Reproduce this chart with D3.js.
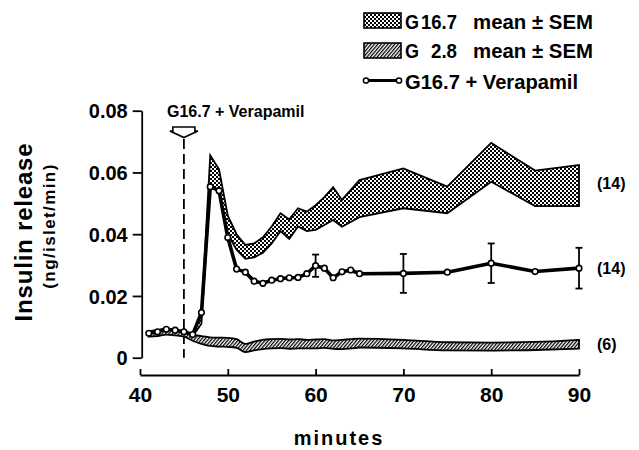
<!DOCTYPE html>
<html>
<head>
<meta charset="utf-8">
<script src="https://cdn.jsdelivr.net/npm/d3@7"></script>
<style>
  body { margin: 0; background: #fff; }
  svg text { font-family: "Liberation Sans", Arial, sans-serif; font-weight: bold; fill: #000; }
</style>
</head>
<body>
<div id="chart"></div>
<script>
// G16.7 + Verapamil, mean values (ng/islet/min)
const verTimes = [41, 42, 43, 44, 45, 46, 47, 48, 49, 50, 51, 52, 53, 54, 55, 56, 57, 58, 59, 60,
                  61, 62, 63, 64, 65, 70, 75, 80, 85, 90];
const verMean = [0.0079, 0.0084, 0.0092, 0.0089, 0.0084, 0.0075, 0.0146, 0.0554, 0.0541, 0.0389,
                 0.0287, 0.0277, 0.0248, 0.0241, 0.0251, 0.0256, 0.0259, 0.0260, 0.0272, 0.0298,
                 0.0290, 0.0259, 0.0278, 0.0284, 0.0272, 0.0273, 0.0277, 0.0306, 0.0279, 0.0290];
// error bars (SEM) only drawn at some points
const errTimes = [60, 70, 80, 90];
const errSem = [0.0036, 0.0063, 0.0064, 0.0066];

// G16.7 mean +/- SEM band
const g167Times = [46, 47, 48, 49, 50, 51, 52, 53, 54, 55, 56, 57, 58, 59, 60, 61, 62, 63, 65,
                   70, 75, 80, 85, 90];
const g167Upper = [0.0080, 0.0140, 0.0655, 0.0610, 0.0460, 0.0400, 0.0365, 0.0370, 0.0390, 0.0425,
                   0.0468, 0.0448, 0.0484, 0.0473, 0.0494, 0.0520, 0.0552, 0.0511, 0.0575,
                   0.0613, 0.0554, 0.0696, 0.0606, 0.0624];
const g167Lower = [0.0070, 0.0110, 0.0555, 0.0540, 0.0400, 0.0350, 0.0320, 0.0325, 0.0340, 0.0370,
                   0.0410, 0.0385, 0.0425, 0.0410, 0.0414, 0.0430, 0.0446, 0.0424, 0.0455,
                   0.0484, 0.0468, 0.0570, 0.0491, 0.0491];

// G2.8 mean +/- SEM band
const g28Times = [41, 42, 43, 44, 45, 46, 47, 48, 49, 50, 51, 52, 53, 54, 55, 56, 57, 58, 59, 60,
                  61, 62, 63, 64, 65, 70, 75, 80, 85, 90];
const g28Upper = [0.0085, 0.0090, 0.0095, 0.0090, 0.0085, 0.0075, 0.0070, 0.0066, 0.0065, 0.0064,
                  0.0060, 0.0045, 0.0052, 0.0058, 0.0060, 0.0061, 0.0059, 0.0060, 0.0058, 0.0059,
                  0.0060, 0.0056, 0.0058, 0.0060, 0.0062, 0.0058, 0.0050, 0.0049, 0.0051, 0.0058];
const g28Lower = [0.0068, 0.0070, 0.0075, 0.0072, 0.0068, 0.0055, 0.0045, 0.0038, 0.0036, 0.0035,
                  0.0032, 0.0018, 0.0024, 0.0028, 0.0030, 0.0031, 0.0029, 0.0030, 0.0030, 0.0030,
                  0.0032, 0.0029, 0.0028, 0.0030, 0.0033, 0.0030, 0.0024, 0.0023, 0.0025, 0.0029];

const xTicks = [40, 50, 60, 70, 80, 90];
const yTicks = [0, 0.02, 0.04, 0.06, 0.08];
const nLabels = [{ text: "(14)", t: 90, v: 0.0565 }, { text: "(14)", t: 90, v: 0.0290 }, { text: "(6)", t: 90, v: 0.0042 }];
const stimTime = 45;

const W = 639, H = 450;
const svg = d3.select("#chart").append("svg").attr("width", W).attr("height", H);

const x = d3.scaleLinear().domain([40, 90]).range([140, 579]);
const y = d3.scaleLinear().domain([0, 0.08]).range([357.7, 110.7]);

// fill patterns
const defs = svg.append("defs");
const dots = defs.append("pattern").attr("id", "dots")
    .attr("width", 4).attr("height", 4).attr("patternUnits", "userSpaceOnUse");
dots.append("rect").attr("width", 4).attr("height", 4).attr("fill", "#fff");
dots.append("rect").attr("width", 2).attr("height", 2).attr("fill", "#000");
dots.append("rect").attr("x", 2).attr("y", 2).attr("width", 2).attr("height", 2).attr("fill", "#000");

const hatch = defs.append("pattern").attr("id", "hatch")
    .attr("width", 2.6).attr("height", 2.6).attr("patternUnits", "userSpaceOnUse")
    .attr("patternTransform", "rotate(40)");
hatch.append("rect").attr("width", 2.6).attr("height", 2.6).attr("fill", "#fff");
hatch.append("line").attr("x1", 0.6).attr("x2", 0.6).attr("y1", 0).attr("y2", 2.6)
    .attr("stroke", "#000").attr("stroke-width", 1.3);

// y axis
const yAxis = svg.append("g").attr("transform", `translate(141.7,0)`)
    .call(d3.axisLeft(y).tickValues(yTicks).tickSize(9).tickSizeOuter(0).tickPadding(5)
        .tickFormat(d => d === 0 ? "0" : d.toFixed(2)));
yAxis.select(".domain").attr("stroke-width", 1.8);
yAxis.selectAll(".tick line").attr("stroke-width", 1.8);
yAxis.selectAll("text").style("font-size", "20px").attr("dy", "0.36em");

// x axis (separate, ticks pointing up)
const xAxis = svg.append("g").attr("transform", `translate(0,375)`)
    .call(d3.axisBottom(x).tickValues(xTicks).tickSizeInner(-6).tickSizeOuter(0).tickPadding(12));
xAxis.select(".domain").attr("stroke-width", 1.8);
xAxis.selectAll(".tick line").attr("stroke-width", 1.8);
xAxis.selectAll("text").style("font-size", "21px");

// axis titles
svg.append("text")
    .attr("transform", "translate(32,232) rotate(-90)")
    .attr("text-anchor", "middle")
    .style("font-size", "24px").style("letter-spacing", "0.8px")
    .text("Insulin release");
svg.append("text")
    .attr("transform", "translate(55,226) rotate(-90)")
    .attr("text-anchor", "middle")
    .style("font-size", "17px").style("letter-spacing", "1.4px")
    .text("(ng/islet/min)");
svg.append("text")
    .attr("x", 339).attr("y", 445)
    .attr("text-anchor", "middle")
    .style("font-size", "20px").style("letter-spacing", "2px")
    .text("minutes");

// stimulus marker: dashed line + open arrow
const xs = x(stimTime);
svg.append("line")
    .attr("x1", xs).attr("x2", xs).attr("y1", 139).attr("y2", y(0))
    .attr("stroke", "#000").attr("stroke-width", 1.8).attr("stroke-dasharray", "10,5");
svg.append("path")
    .attr("d", `M${xs - 11},127 L${xs + 11},127 L${xs + 11},131 L${xs + 14},131 L${xs},137.5 L${xs - 14},131 L${xs - 11},131 Z`)
    .attr("fill", "#fff").attr("stroke", "#000").attr("stroke-width", 1.6);
svg.append("text")
    .attr("x", 167).attr("y", 117)
    .style("font-size", "16px")
    .text("G16.7 + Verapamil");

// bands
const g28 = g28Times.map((t, i) => ({ t, hi: g28Upper[i], lo: g28Lower[i] }));
const g167 = g167Times.map((t, i) => ({ t, hi: g167Upper[i], lo: g167Lower[i] }));

svg.append("path").datum(g28)
    .attr("d", d3.area().curve(d3.curveMonotoneX).x(d => x(d.t)).y0(d => y(d.lo)).y1(d => y(d.hi)))
    .attr("fill", "url(#hatch)").attr("stroke", "#000").attr("stroke-width", 1.8);

svg.append("path").datum(g167)
    .attr("d", d3.area().x(d => x(d.t)).y0(d => y(d.lo)).y1(d => y(d.hi)))
    .attr("fill", "url(#dots)").attr("stroke", "#000").attr("stroke-width", 1.8)
    .attr("stroke-linejoin", "miter");

// verapamil line
const ver = verTimes.map((t, i) => ({ t, v: verMean[i] }));
const errs = errTimes.map((t, i) => ({ t, v: verMean[verTimes.indexOf(t)], s: errSem[i] }));

const eb = svg.append("g").attr("stroke", "#000").attr("stroke-width", 1.8);
errs.forEach(d => {
    eb.append("line").attr("x1", x(d.t)).attr("x2", x(d.t)).attr("y1", y(d.v - d.s)).attr("y2", y(d.v + d.s));
    eb.append("line").attr("x1", x(d.t) - 3.5).attr("x2", x(d.t) + 3.5).attr("y1", y(d.v - d.s)).attr("y2", y(d.v - d.s));
    eb.append("line").attr("x1", x(d.t) - 3.5).attr("x2", x(d.t) + 3.5).attr("y1", y(d.v + d.s)).attr("y2", y(d.v + d.s));
});

svg.append("path").datum(ver)
    .attr("d", d3.line().x(d => x(d.t)).y(d => y(d.v)))
    .attr("fill", "none").attr("stroke", "#000").attr("stroke-width", 3.6).attr("stroke-linejoin", "round");

svg.selectAll(".pt").data(ver).enter().append("circle")
    .attr("class", "pt")
    .attr("cx", d => x(d.t)).attr("cy", d => y(d.v)).attr("r", 2.8)
    .attr("fill", "#fff").attr("stroke", "#000").attr("stroke-width", 1.6);

// n labels
svg.selectAll(".nlab").data(nLabels).enter().append("text")
    .attr("class", "nlab")
    .attr("x", d => x(d.t) + 18).attr("y", d => y(d.v)).attr("dy", "0.36em")
    .style("font-size", "16px")
    .text(d => d.text);

// legend
const lg = svg.append("g");
lg.append("rect").attr("x", 364).attr("y", 13).attr("width", 37).attr("height", 15)
    .attr("fill", "url(#dots)").attr("stroke", "#000").attr("stroke-width", 1.6);
lg.append("rect").attr("x", 364).attr("y", 43).attr("width", 37).attr("height", 15)
    .attr("fill", "url(#hatch)").attr("stroke", "#000").attr("stroke-width", 1.6);
lg.append("line").attr("x1", 366).attr("x2", 399).attr("y1", 80.5).attr("y2", 80.5)
    .attr("stroke", "#000").attr("stroke-width", 3);
[366, 399].forEach(cx => lg.append("circle").attr("cx", cx).attr("cy", 80.5).attr("r", 2.6)
    .attr("fill", "#fff").attr("stroke", "#000").attr("stroke-width", 1.5));

const legRows = [{ num: "16.7", w: 36, y: 29, rest: "mean ± SEM" }, { num: "2.8", w: 26, y: 58, rest: "mean ± SEM" }];
legRows.forEach(r => {
    lg.append("text").attr("x", 405).attr("y", r.y).style("font-size", "21px")
        .attr("textLength", 14).attr("lengthAdjust", "spacingAndGlyphs").text("G");
    lg.append("text").attr("x", 457 - r.w).attr("y", r.y).style("font-size", "21px")
        .attr("textLength", r.w).attr("lengthAdjust", "spacingAndGlyphs").text(r.num);
    lg.append("text").attr("x", 473).attr("y", r.y).style("font-size", "21px")
        .attr("textLength", 120).attr("lengthAdjust", "spacingAndGlyphs").text(r.rest);
});
lg.append("text").attr("x", 405).attr("y", 88.5).style("font-size", "21px")
    .attr("textLength", 173).attr("lengthAdjust", "spacingAndGlyphs").text("G16.7 + Verapamil");
</script>
</body>
</html>
